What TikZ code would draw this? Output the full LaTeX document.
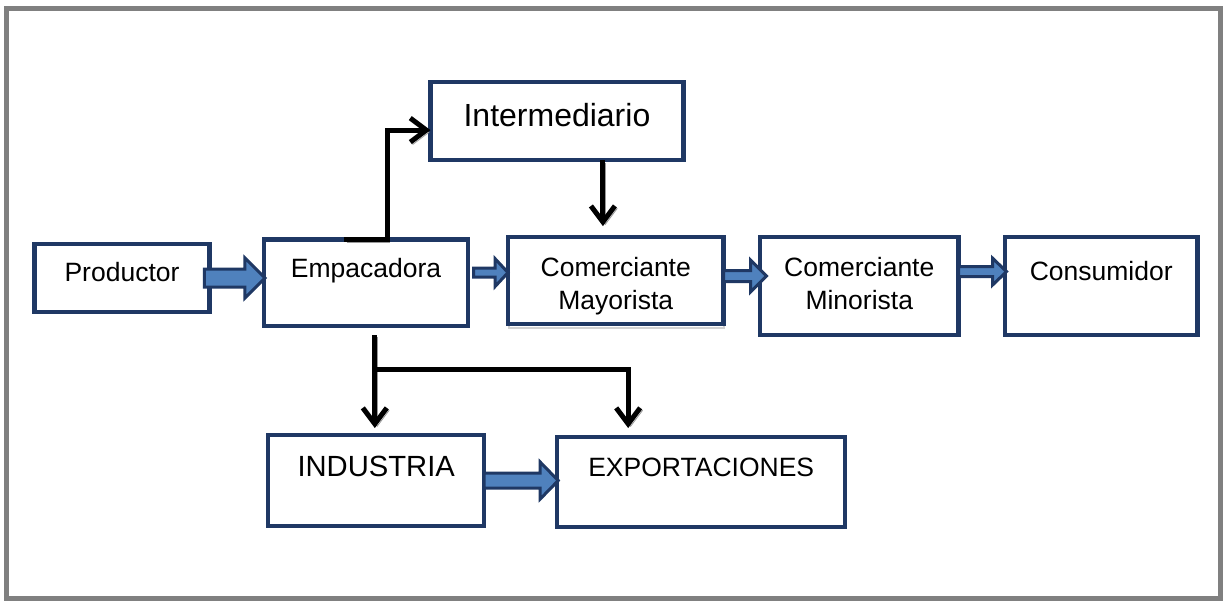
\documentclass[tikz,border=0pt]{standalone}
\usepackage{fontspec}
\setmainfont{Liberation Sans}
\usepackage{tikz}
\usetikzlibrary{positioning, calc, arrows.meta, shadows}

\definecolor{boxblue}{RGB}{31,56,100}
\definecolor{arrowfill}{RGB}{79,129,189}
\definecolor{framegray}{RGB}{128,128,128}

\tikzset{
  box/.style={draw=boxblue, line width=2.2pt, fill=white, outer sep=0pt, inner sep=2pt,
    font=\fontsize{13.25pt}{16.5pt}\selectfont},
  lift/.style={text height=10pt, text depth=#1},
  lifttwo/.style={text height=30pt, text depth=#1},
  fat/.style={draw=boxblue, fill=arrowfill, line width=1.5pt, line join=miter},
  conn/.style={line width=2.5pt, -{Straight Barb[length=8pt,width=12pt]},
    preaction={draw=black!40, transform canvas={shift={(1.2pt,-1.2pt)}}}}
}

% block arrow: start, tip, half shaft, half head, head length
\newcommand{\fatarrow}[5]{%
  \draw[fat] let \p1=(#1), \p2=(#2) in
    (\x1,\y1+#3) -- (\x2-#5,\y1+#3) -- (\x2-#5,\y1+#4) -- (\x2,\y1)
    -- (\x2-#5,\y1-#4) -- (\x2-#5,\y1-#3) -- (\x1,\y1-#3) -- cycle;}

\begin{document}
\begin{tikzpicture}
    \useasboundingbox (-61pt,-161.5pt) rectangle (550.5pt,139pt);
    \draw[framegray, line width=2.5pt] (-57.75pt,-160.25pt) rectangle (549.25pt,134.75pt);

    % Main chain of boxes
    \node (prod) [box, lift=7pt, minimum width=87.5pt, minimum height=34pt] {Productor};
    \node (emp) [box, lift=15.3pt, minimum width=102pt, minimum height=43.25pt,
      right=27.25pt of prod, yshift=-2.4pt] {Empacadora};
    \node (may) [box, align=center, lifttwo=1pt, minimum width=107.75pt, minimum height=43.5pt,
      right=20pt of emp, yshift=1.1pt,
      drop shadow={shadow xshift=0.3pt, shadow yshift=-2pt, fill=white, draw=black!35, line width=1pt}]
      {Comerciante\\Mayorista};
    \node (min) [box, align=center, lifttwo=6.5pt, minimum width=99.25pt, minimum height=49pt,
      right=18.25pt of may, yshift=-2.75pt] {Comerciante\\Minorista};
    \node (cons) [box, lift=16pt, minimum width=96.25pt, minimum height=49pt,
      right=23.25pt of min] {Consumidor};

    % Upper and lower boxes
    \node (inter) [box, lift=4.5pt, font=\fontsize{16pt}{19pt}\selectfont,
      minimum width=126.5pt, minimum height=39pt,
      above=38.5pt of may, xshift=-29.4pt] {Intermediario};
    \node (ind) [box, lift=14pt, font=\fontsize{14.6pt}{17pt}\selectfont,
      minimum width=108pt, minimum height=45.5pt,
      below=54.5pt of emp, xshift=5.1pt] {INDUSTRIA};
    \node (exp) [box, lift=15.5pt, minimum width=144pt, minimum height=45pt,
      right=36.5pt of ind, yshift=-0.75pt] {EXPORTACIONES};

    % Block arrows
    \fatarrow{[xshift=-2.5pt]prod.east}{[xshift=0.5pt]emp.west}{4.5pt}{10pt}{10pt}
    \fatarrow{[xshift=2.75pt, yshift=5.1pt]emp.east}{may.west}{2.25pt}{7pt}{6.5pt}
    \fatarrow{[yshift=2.25pt]may.east}{[xshift=3.25pt]min.west}{2.75pt}{8pt}{8pt}
    \fatarrow{[yshift=7.25pt]min.east}{[xshift=0.75pt]cons.west}{2.5pt}{6.75pt}{7pt}
    \fatarrow{ind.east}{[xshift=0.5pt]exp.west}{3.75pt}{9.25pt}{9pt}

    % Black connectors
    \draw[conn] ([xshift=-10.9pt]emp.north) -| ([xshift=-21.5pt, yshift=-4.5pt]inter.west)
      -- ([yshift=-4.5pt]inter.west);
    \draw[conn, shorten >=5.5pt] ([xshift=23pt]inter.south) -- ([xshift=23pt]inter.south |- may.north);
    \coordinate (split) at ([xshift=4.4pt, yshift=-21.5pt]emp.south);
    \draw[conn, shorten >=3.5pt] ([xshift=4.4pt, yshift=-4.5pt]emp.south) -- (split |- ind.north);
    \draw[conn, shorten >=4.5pt] (split) -| ([xshift=-36.5pt]exp.north);
\end{tikzpicture}
\end{document}
